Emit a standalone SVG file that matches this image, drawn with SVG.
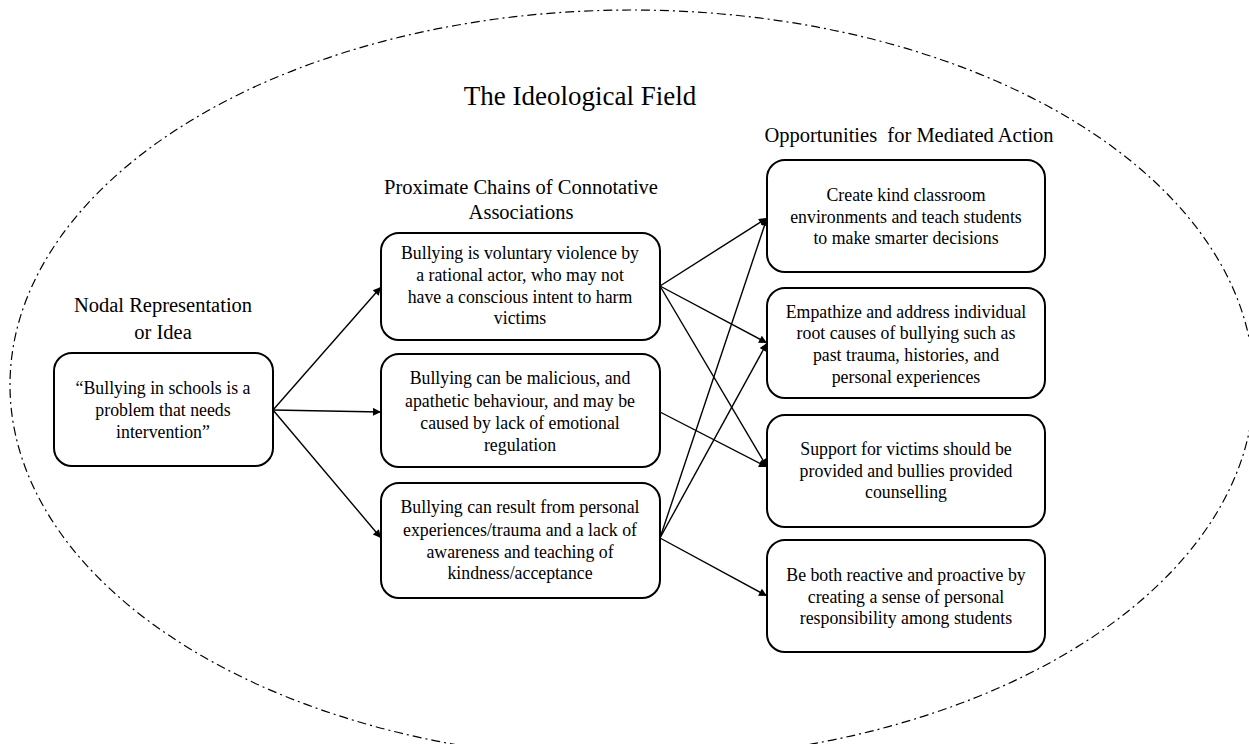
<svg xmlns="http://www.w3.org/2000/svg" width="1249" height="744" viewBox="0 0 1249 744" font-family="Liberation Serif, serif">
<style>
.box{fill:#fff;stroke:#000;stroke-width:2}
.t{font-size:17.8px;fill:#000;text-anchor:middle}
.h{font-size:20.5px;fill:#000;text-anchor:middle}
.c{stroke:#000;stroke-width:1.4;fill:none;marker-end:url(#ah)}
</style>
<defs>
<marker id="ah" viewBox="0 0 10 10" refX="10" refY="5" markerWidth="10" markerHeight="8" markerUnits="userSpaceOnUse" orient="auto">
<path d="M0,0 L10,5 L0,10 z" fill="#000"/>
</marker>
</defs>
<rect width="1249" height="744" fill="#fff"/>
<g id="field" font-family="Liberation Serif, serif">
<ellipse cx="632" cy="385" rx="622" ry="375" fill="none" stroke="#000" stroke-width="1.2" stroke-dasharray="9 4 2 4"/>
<text x="580" y="105" class="h" style="font-size:27px">The Ideological Field</text>
</g>
<g id="headings" font-family="Liberation Serif, serif">
<text x="163" y="312" class="h">Nodal Representation</text>
<text x="163" y="339" class="h">or Idea</text>
<text x="521" y="194" class="h">Proximate Chains of Connotative</text>
<text x="521" y="219" class="h">Associations</text>
<text x="909" y="142" class="h" xml:space="preserve">Opportunities  for Mediated Action</text>
</g>
<g id="connectors">
<line class="c" x1="273" y1="410" x2="381" y2="287"/>
<line class="c" x1="273" y1="410" x2="381" y2="412"/>
<line class="c" x1="273" y1="410" x2="381" y2="538"/>
<line class="c" x1="660" y1="286" x2="767" y2="218"/>
<line class="c" x1="660" y1="286" x2="767" y2="343"/>
<line class="c" x1="660" y1="286" x2="767" y2="467"/>
<line class="c" x1="660" y1="412" x2="767" y2="467"/>
<line class="c" x1="660" y1="538" x2="767" y2="218"/>
<line class="c" x1="660" y1="538" x2="767" y2="343"/>
<line class="c" x1="660" y1="538" x2="767" y2="596"/>
</g>
<g id="nodal" font-family="Liberation Serif, serif">
<rect class="box" x="54" y="353" width="219" height="113" rx="18"/>
<text class="t" x="163" y="394">“Bullying in schools is a</text>
<text class="t" x="163" y="416">problem that needs</text>
<text class="t" x="163" y="438">intervention”</text>
</g>
<g id="chain1" font-family="Liberation Serif, serif">
<rect class="box" x="381" y="233" width="279" height="107" rx="18"/>
<text class="t" x="520" y="259">Bullying is voluntary violence by</text>
<text class="t" x="520" y="281">a rational actor, who may not</text>
<text class="t" x="520" y="303">have a conscious intent to harm</text>
<text class="t" x="520" y="324">victims</text>
</g>
<g id="chain2" font-family="Liberation Serif, serif">
<rect class="box" x="381" y="354" width="279" height="113" rx="18"/>
<text class="t" x="520" y="384">Bullying can be malicious, and</text>
<text class="t" x="520" y="407">apathetic behaviour, and may be</text>
<text class="t" x="520" y="429">caused by lack of emotional</text>
<text class="t" x="520" y="451">regulation</text>
</g>
<g id="chain3" font-family="Liberation Serif, serif">
<rect class="box" x="381" y="483" width="279" height="115" rx="18"/>
<text class="t" x="520" y="513">Bullying can result from personal</text>
<text class="t" x="520" y="536">experiences/trauma and a lack of</text>
<text class="t" x="520" y="558">awareness and teaching of</text>
<text class="t" x="520" y="579">kindness/acceptance</text>
</g>
<g id="action1" font-family="Liberation Serif, serif">
<rect class="box" x="767" y="160" width="278" height="112" rx="18"/>
<text class="t" x="906" y="201">Create kind classroom</text>
<text class="t" x="906" y="223">environments and teach students</text>
<text class="t" x="906" y="244">to make smarter decisions</text>
</g>
<g id="action2" font-family="Liberation Serif, serif">
<rect class="box" x="767" y="288" width="278" height="110" rx="18"/>
<text class="t" x="906" y="318">Empathize and address individual</text>
<text class="t" x="906" y="339">root causes of bullying such as</text>
<text class="t" x="906" y="361">past trauma, histories, and</text>
<text class="t" x="906" y="383">personal experiences</text>
</g>
<g id="action3" font-family="Liberation Serif, serif">
<rect class="box" x="767" y="415" width="278" height="112" rx="18"/>
<text class="t" x="906" y="455">Support for victims should be</text>
<text class="t" x="906" y="477">provided and bullies provided</text>
<text class="t" x="906" y="498">counselling</text>
</g>
<g id="action4" font-family="Liberation Serif, serif">
<rect class="box" x="767" y="540" width="278" height="112" rx="18"/>
<text class="t" x="906" y="581">Be both reactive and proactive by</text>
<text class="t" x="906" y="603">creating a sense of personal</text>
<text class="t" x="906" y="624">responsibility among students</text>
</g>
</svg>
